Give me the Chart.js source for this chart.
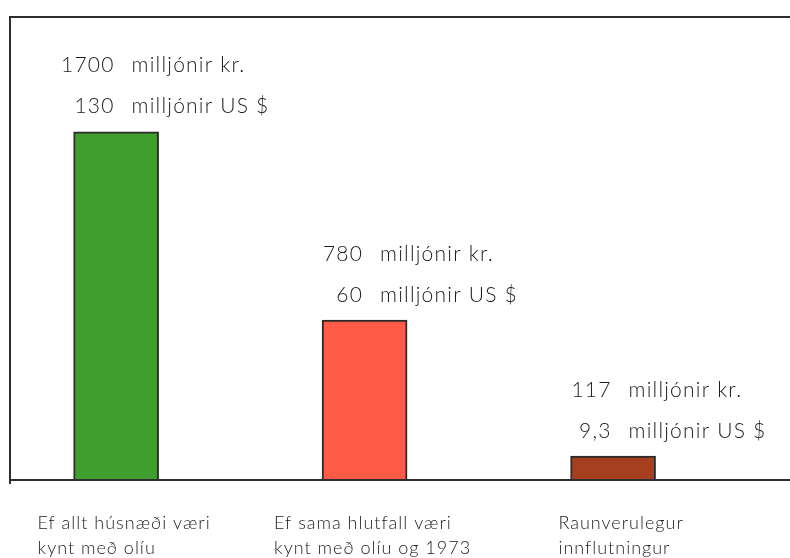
<!DOCTYPE html>
<html>
<head>
<meta charset="utf-8">
<script src="https://cdn.jsdelivr.net/npm/chart.js@4/dist/chart.umd.min.js"></script>
<style>
  html, body { margin: 0; padding: 0; background: #fff; }
  canvas { display: block; }
</style>
</head>
<body>
<canvas id="oil-chart" width="790" height="558"></canvas>
<script>
// Oil import cost, three scenarios
const categories = [
  ['Ef allt húsnæði væri', 'kynt með olíu'],
  ['Ef sama hlutfall væri', 'kynt með olíu og 1973'],
  ['Raunverulegur', 'innflutningur']
];
const kronur = [1700, 780, 117];   // milljónir kr.
const dollars = [130, 60, 9.3];    // milljónir US $

const barColors = ['#3f9e2d', '#ff5b47', '#a63f1f'];
const inkColor = '#1c1c1c';
const textFont = '300 21px Lato, "DejaVu Sans", sans-serif';
const labelFont = '300 18px Lato, "DejaVu Sans", sans-serif';

const formatNumber = (v) => String(v).replace('.', ',');

// Frame, value notes above each bar and the scenario captions
const annotations = {
  id: 'annotations',
  afterDraw(chart) {
    const ctx = chart.ctx;
    const area = chart.chartArea;
    const bars = chart.getDatasetMeta(0).data;

    ctx.save();
    ctx.strokeStyle = '#2e2e2e';
    ctx.lineWidth = 2;
    ctx.beginPath();
    ctx.moveTo(area.left, area.bottom + 4);
    ctx.lineTo(area.left, area.top);
    ctx.lineTo(area.right, area.top);
    ctx.moveTo(area.left, area.bottom);
    ctx.lineTo(area.right, area.bottom);
    ctx.stroke();

    ctx.fillStyle = inkColor;
    ctx.textBaseline = 'middle';
    ctx.font = textFont;
    ctx.letterSpacing = '1.2px';
    bars.forEach((bar, i) => {
      const left = bar.x - bar.width / 2;
      const numEnd = left + 41;
      const wordStart = left + 58;
      ctx.textAlign = 'right';
      ctx.fillText(formatNumber(kronur[i]), numEnd, bar.y - 66);
      ctx.fillText(formatNumber(dollars[i]), numEnd, bar.y - 25);
      ctx.textAlign = 'left';
      ctx.fillText('milljónir kr.', wordStart, bar.y - 66);
      ctx.fillText('milljónir US $', wordStart, bar.y - 25);
    });

    ctx.font = labelFont;
    ctx.letterSpacing = '1px';
    ctx.textAlign = 'left';
    bars.forEach((bar, i) => {
      const lines = categories[i];
      const maxW = Math.max(...lines.map(l => ctx.measureText(l).width));
      const x = bar.x - maxW / 2 + 8;
      lines.forEach((line, j) => {
        ctx.fillText(line, x, area.bottom + 43 + j * 25);
      });
    });
    ctx.restore();
  }
};

new Chart(document.getElementById('oil-chart'), {
  type: 'bar',
  data: {
    datasets: [{
      data: kronur.map((v, i) => ({ x: i, y: v })),
      backgroundColor: barColors,
      borderColor: '#2b2b2b',
      borderWidth: 2,
      borderSkipped: 'bottom',
      barThickness: 85,
      clip: false
    }]
  },
  options: {
    responsive: false,
    animation: false,
    devicePixelRatio: 1,
    layout: { padding: { left: 10, right: 0, top: 17, bottom: 78 } },
    scales: {
      x: { type: 'linear', offset: false, min: -0.427, max: 2.712, display: false },
      y: { min: 0, max: 2260, display: false }
    },
    plugins: {
      legend: { display: false },
      tooltip: { enabled: false }
    }
  },
  plugins: [annotations]
});
</script>
</body>
</html>
